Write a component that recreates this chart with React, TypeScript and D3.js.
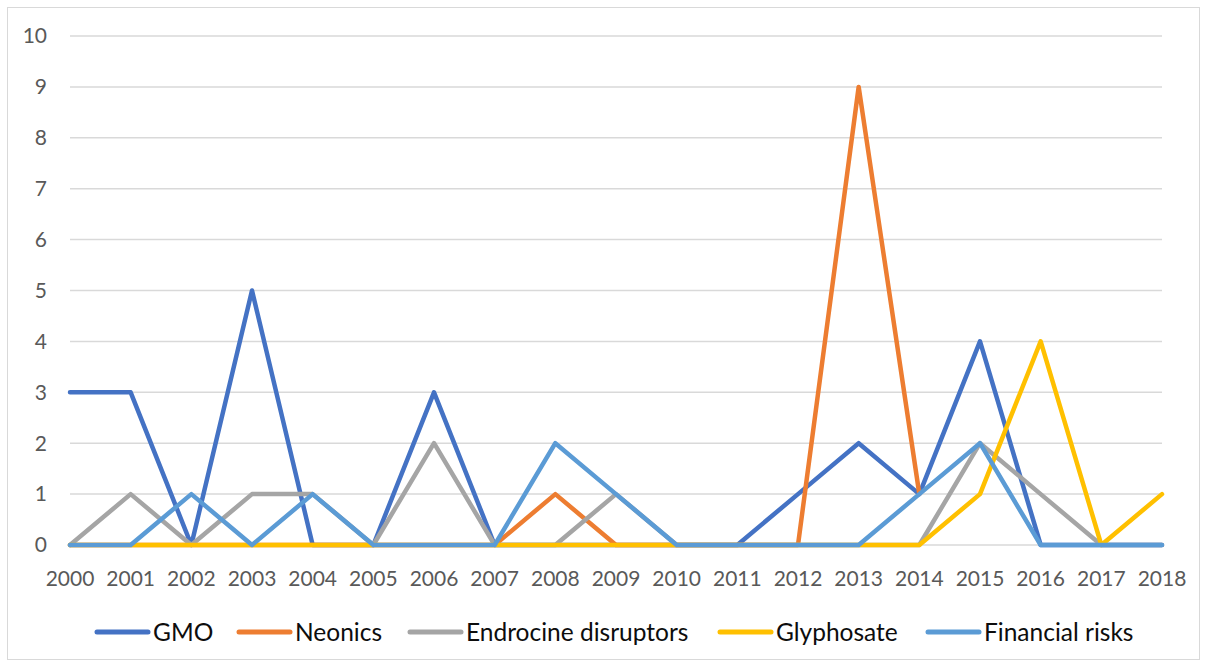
import React from 'react';
import * as d3 from 'd3';

const years = d3.range(2000, 2019).map(String);
const yTicks = [0, 1, 2, 3, 4, 5, 6, 7, 8, 9, 10];

const gmo = [3, 3, 0, 5, 0, 0, 3, 0, 0, 0, 0, 0, 1, 2, 1, 4, 0, 0, 0];
const neonics = [0, 0, 0, 0, 0, 0, 0, 0, 1, 0, 0, 0, 0, 9, 1, null, null, null, null];
const endocrine = [0, 1, 0, 1, 1, 0, 2, 0, 0, 1, 0, 0, 0, 0, 0, 2, 1, 0, 0];
const glyphosate = [0, 0, 0, 0, 0, 0, 0, 0, 0, 0, 0, 0, 0, 0, 0, 1, 4, 0, 1];
const financial = [0, 0, 1, 0, 1, 0, 0, 0, 2, 1, 0, 0, 0, 0, 1, 2, 0, 0, 0];

const seriesNames = ['GMO', 'Neonics', 'Endrocine disruptors', 'Glyphosate', 'Financial risks'];
const seriesValues = [gmo, neonics, endocrine, glyphosate, financial];
const colors = ['#4472C4', '#ED7D31', '#A5A5A5', '#FFC000', '#5B9BD5'];
// legend swatch starts
const legendX = [95, 237, 408, 718, 926];

const W = 1206;
const H = 666;
const FONT = 'Lato, "Open Sans", sans-serif';

const App: React.FC = () => {
  const x = d3.scalePoint<string>().domain(years).range([70, 1162]);
  const y = d3.scaleLinear().domain([0, 10]).range([545, 36]);

  const line = d3.line<number | null>()
    .defined(d => d !== null)
    .x((d, i) => x(years[i]) as number)
    .y(d => y(d as number));

  return (
    <svg width={W} height={H} style={{ position: 'absolute', left: 0, top: 0, background: '#fff' }}>
      <rect x={7.5} y={7.5} width={1192} height={652} fill="#fff" stroke="#d9d9d9" strokeWidth={1} />

      {/* gridlines + y labels */}
      {yTicks.map(t => (
        <g key={t}>
          <line x1={70} x2={1162} y1={y(t)} y2={y(t)} stroke="#d9d9d9" strokeWidth={1.5} />
          <text x={47} y={y(t)} dy="0.35em" textAnchor="end" fontSize={21} fill="#595959" fontFamily={FONT}>
            {t}
          </text>
        </g>
      ))}

      {/* x labels */}
      {years.map(yr => (
        <text key={yr} x={x(yr)} y={586} textAnchor="middle" fontSize={21} fill="#595959" fontFamily={FONT}>
          {yr}
        </text>
      ))}

      {/* series */}
      {seriesValues.map((vals, i) => (
        <path
          key={seriesNames[i]}
          d={line(vals) || ''}
          fill="none"
          stroke={colors[i]}
          strokeWidth={4.5}
          strokeLinejoin="round"
          strokeLinecap="round"
        />
      ))}

      {/* legend */}
      {seriesNames.map((name, i) => (
        <g key={name} transform={`translate(${legendX[i]},632)`}>
          <line x1={2} x2={53} y1={0} y2={0} stroke={colors[i]} strokeWidth={5} strokeLinecap="round" />
          <text x={58} y={0} dy="0.35em" fontSize={24.5} fill="#0d0d0d" fontFamily={FONT}>
            {name}
          </text>
        </g>
      ))}
    </svg>
  );
};

export default App;
